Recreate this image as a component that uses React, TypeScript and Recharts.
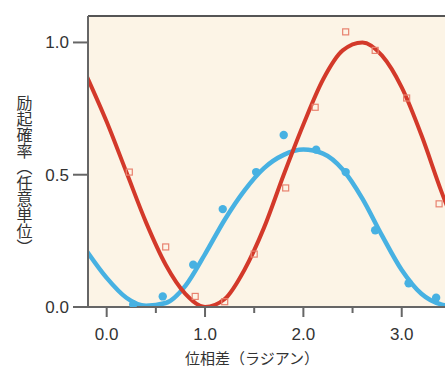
import React from 'react';
import { ComposedChart, Line, Scatter, XAxis, YAxis, CartesianGrid, ReferenceLine } from 'recharts';

// phase difference (rad) sampled along the fitted curves
const phase = [-0.2, 0, 0.2, 0.4, 0.6, 0.8, 1.0, 1.2, 1.4, 1.6, 1.8, 2.0, 2.2, 2.4, 2.6, 2.8, 3.0, 3.2, 3.4, 3.6];
const redFit = [0.87, 0.7, 0.51, 0.32, 0.16, 0.05, 0.0, 0.03, 0.14, 0.3, 0.5, 0.69, 0.86, 0.97, 1.0, 0.95, 0.83, 0.65, 0.44, 0.25];
const blueFit = [0.21, 0.11, 0.035, 0.005, 0.015, 0.08, 0.2, 0.33, 0.44, 0.525, 0.575, 0.595, 0.58, 0.52, 0.41, 0.27, 0.14, 0.05, 0.01, 0.0];

// measured points
const redPtX = [0.23, 0.6, 0.9, 1.2, 1.5, 1.82, 2.12, 2.43, 2.73, 3.05, 3.38];
const redPtY = [0.51, 0.227, 0.04, 0.02, 0.2, 0.45, 0.755, 1.04, 0.97, 0.79, 0.39];
const bluePtX = [0.27, 0.57, 0.88, 1.18, 1.52, 1.8, 2.13, 2.43, 2.73, 3.07, 3.35];
const bluePtY = [0.01, 0.04, 0.16, 0.37, 0.51, 0.65, 0.595, 0.51, 0.29, 0.09, 0.035];

const xTicks = [0, 0.5, 1, 1.5, 2, 2.5, 3];
const yTicks = [0, 0.5, 1];

const RED = '#d3392a';
const BLUE = '#47b1e2';
const AXIS = '#666';
const FONT = "'Liberation Sans', 'Noto Sans CJK JP', sans-serif";

const redLine = phase.map((x, i) => ({ x, y: redFit[i] }));
const blueLine = phase.map((x, i) => ({ x, y: blueFit[i] }));
const redPts = redPtX.map((x, i) => ({ x, y: redPtY[i] }));
const bluePts = bluePtX.map((x, i) => ({ x, y: bluePtY[i] }));

const XTick = (props: any) => {
  const { x, y, payload } = props;
  const major = Number.isInteger(payload.value);
  return (
    <g>
      <line x1={x} x2={x} y1={y} y2={y + (major ? 10 : 6)} stroke={AXIS} strokeWidth={2} />
      {major && (
        <text x={x} y={y + 33} textAnchor="middle" fontSize={17} fill="#333" fontFamily={FONT}>
          {payload.value.toFixed(1)}
        </text>
      )}
    </g>
  );
};

const YTick = (props: any) => {
  const { x, y, payload } = props;
  return (
    <text x={x} y={y + 6} textAnchor="end" fontSize={17} fill="#333" fontFamily={FONT}>
      {payload.value.toFixed(1)}
    </text>
  );
};

const Square = (props: any) => {
  const { cx, cy } = props;
  return <rect x={cx - 3} y={cy - 3} width={6} height={6} fill="none" stroke="#e8826f" strokeWidth={1.2} />;
};

const Dot = (props: any) => {
  const { cx, cy } = props;
  return <circle cx={cx} cy={cy} r={4.2} fill={BLUE} />;
};

export default function App() {
  return (
    <div style={{ position: 'absolute', left: 0, top: 0, width: 445, height: 368, background: '#fff' }}>
      <ComposedChart width={445} height={368} margin={{ top: 16, right: 0, bottom: 0, left: 0 }}>
        <CartesianGrid fill="#fcf4e6" horizontal={false} vertical={false} />
        <XAxis
          type="number"
          dataKey="x"
          domain={[-0.19, 3.44]}
          allowDataOverflow
          ticks={xTicks}
          tick={<XTick />}
          tickSize={0}
          tickMargin={0}
          height={61}
          stroke={AXIS}
          strokeWidth={2}
          label={{
            content: () => (
              <text x={252} y={364} textAnchor="middle" fontSize={15} fill="#333" fontFamily={FONT}>
                位相差（ラジアン）
              </text>
            ),
          }}
        />
        <YAxis
          type="number"
          dataKey="y"
          domain={[0, 1.1]}
          allowDataOverflow
          ticks={yTicks}
          tick={<YTick />}
          tickSize={15}
          tickMargin={4}
          tickLine={{ stroke: AXIS, strokeWidth: 2 }}
          width={88}
          stroke={AXIS}
          strokeWidth={2}
          label={{
            content: () => (
              <text
                x={23}
                y={95}
                fontSize={16}
                fill="#333"
                fontFamily={FONT}
                style={{ writingMode: 'vertical-rl' }}
              >
                励起確率（任意単位）
              </text>
            ),
          }}
        />
        <ReferenceLine y={1.1} stroke="#555" strokeWidth={2} ifOverflow="extendDomain" />
        <Line data={blueLine} dataKey="y" type="monotone" stroke={BLUE} strokeWidth={4.5} dot={false} isAnimationActive={false} />
        <Scatter data={bluePts} dataKey="y" shape={<Dot />} isAnimationActive={false} />
        <Line data={redLine} dataKey="y" type="monotone" stroke={RED} strokeWidth={4} dot={false} isAnimationActive={false} />
        <Scatter data={redPts} dataKey="y" shape={<Square />} isAnimationActive={false} />
      </ComposedChart>
    </div>
  );
}
